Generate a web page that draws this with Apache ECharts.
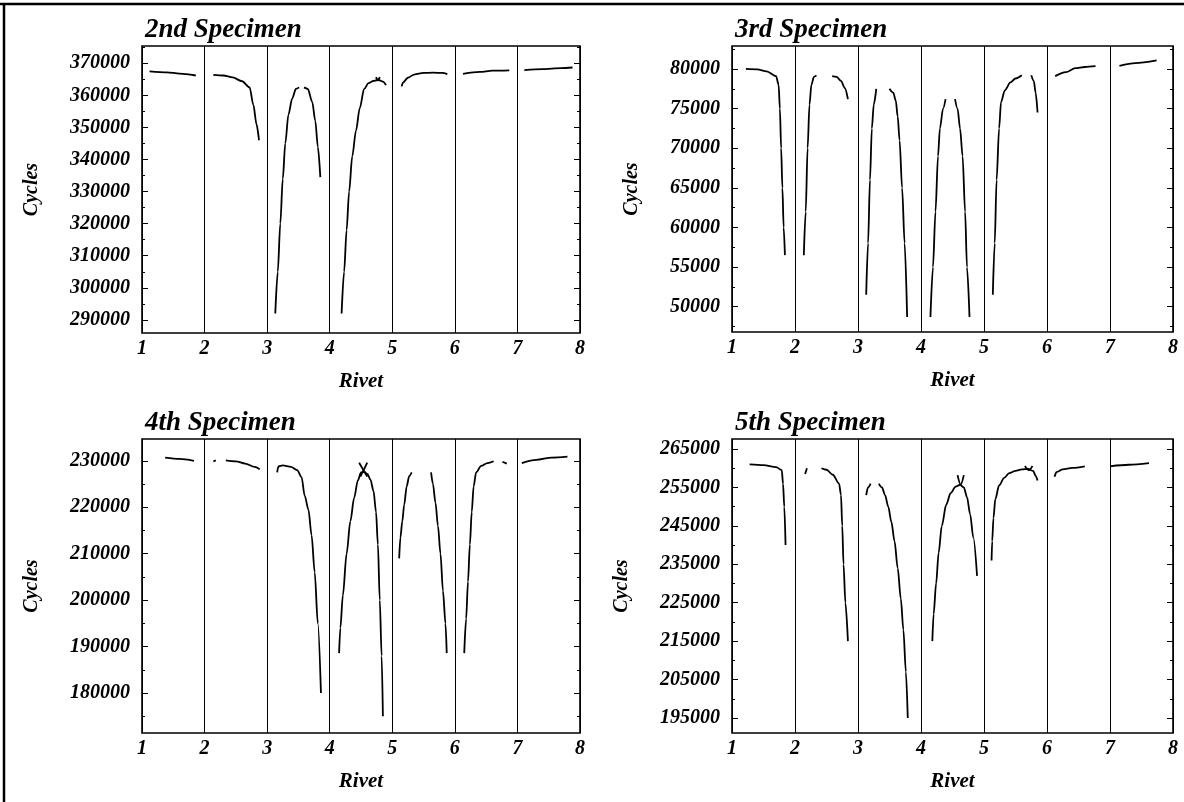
<!DOCTYPE html>
<html>
<head>
<meta charset="utf-8">
<script src="https://cdn.jsdelivr.net/npm/echarts@6/dist/echarts.min.js"></script>
<style>html,body{margin:0;padding:0;background:#fff}#c{width:1184px;height:802px}</style>
</head>
<body>
<div id="c"></div>
<script>
// ---- data ----
const titles = ['2nd Specimen', '3rd Specimen', '4th Specimen', '5th Specimen'];
const rivetTicks = [1, 2, 3, 4, 5, 6, 7, 8];

const yRange2 = [285900, 375400];
const yMajor2 = [290000, 300000, 310000, 320000, 330000, 340000, 350000, 360000, 370000];
const yMinor2 = [295000, 305000, 315000, 325000, 335000, 345000, 355000, 365000, 375000];

const yRange3 = [46800, 82900];
const yMajor3 = [50000, 55000, 60000, 65000, 70000, 75000, 80000];
const yMinor3 = [47500, 52500, 57500, 62500, 67500, 72500, 77500, 82500];

const yRange4 = [171400, 234700];
const yMajor4 = [180000, 190000, 200000, 210000, 220000, 230000];
const yMinor4 = [175000, 185000, 195000, 205000, 215000, 225000];

const yRange5 = [191100, 267600];
const yMajor5 = [195000, 205000, 215000, 225000, 235000, 245000, 255000, 265000];
const yMinor5 = [200000, 210000, 220000, 230000, 240000, 250000, 260000];

// curve segments [rivet, cycles]
const spec2 = [
  [[1.12,367500],[1.4,367200],[1.6,366800],[1.86,366200]],
  [[2.14,366400],[2.3,366200],[2.45,365600],[2.6,364400],[2.72,362500],[2.78,357000],[2.83,351000],[2.87,346000]],
  [[3.13,292000],[3.17,305000],[3.21,320000],[3.25,334000],[3.29,345000],[3.34,354000],[3.4,359000],[3.46,362000],[3.51,362500]],
  [[3.59,362500],[3.65,362000],[3.72,358000],[3.77,352000],[3.81,344000],[3.85,334500]],
  [[4.19,292000],[4.23,305000],[4.27,318000],[4.31,330000],[4.36,341000],[4.42,349000],[4.48,356000],[4.55,362000],[4.62,363800],[4.7,364500],[4.78,364800],[4.85,364300],[4.9,363200]],
  [[4.74,365700],[4.77,364700],[4.8,365700]],
  [[5.15,362800],[5.17,364000],[5.25,365500],[5.35,366500],[5.5,367000],[5.65,367100],[5.8,367000],[5.88,366600]],
  [[6.13,366700],[6.4,367300],[6.6,367700],[6.87,367800]],
  [[7.11,367900],[7.4,368200],[7.7,368500],[7.88,368700]]
];

const spec3 = [
  [[1.22,80000],[1.4,79950],[1.55,79700],[1.7,79100],[1.74,78000],[1.76,75000],[1.78,70000],[1.8,65000],[1.82,60000],[1.84,56500]],
  [[2.14,56500],[2.17,62000],[2.2,70000],[2.23,75500],[2.26,78000],[2.3,79000],[2.34,79200]],
  [[2.59,79100],[2.66,79000],[2.73,78500],[2.79,77600],[2.84,76200]],
  [[3.13,51500],[3.16,58000],[3.19,66000],[3.22,72500],[3.25,75500],[3.29,77500]],
  [[3.5,77500],[3.56,77000],[3.6,76000],[3.63,74000],[3.66,71000],[3.7,65000],[3.74,58000],[3.78,48700]],
  [[4.15,48700],[4.19,55000],[4.23,62000],[4.27,69000],[4.3,72500],[4.35,75000],[4.39,76200]],
  [[4.54,76200],[4.58,75000],[4.62,72500],[4.66,69000],[4.7,62000],[4.73,55000],[4.77,48700]],
  [[5.14,51500],[5.17,58000],[5.2,66000],[5.24,72500],[5.27,75800],[5.33,77300],[5.42,78300],[5.5,78800],[5.6,79200]],
  [[5.75,79200],[5.79,78500],[5.82,77000],[5.85,74500]],
  [[6.13,79100],[6.3,79600],[6.45,80100],[6.6,80250],[6.77,80350]],
  [[7.15,80400],[7.4,80750],[7.74,81100]]
];

const spec4 = [
  [[1.37,230700],[1.6,230400],[1.83,230000]],
  [[2.14,229900],[2.18,230100]],
  [[2.34,230100],[2.5,229900],[2.65,229400],[2.8,228700],[2.88,228200]],
  [[3.16,227500],[3.18,228800],[3.25,229000],[3.38,228700],[3.48,228000],[3.55,226500],[3.6,222500],[3.66,219500],[3.71,214000],[3.76,206000],[3.81,195000],[3.86,180000]],
  [[4.15,188600],[4.17,194000],[4.21,201000],[4.27,210000],[4.33,217000],[4.39,222000],[4.45,225800],[4.5,227500],[4.55,227600],[4.6,227200],[4.65,226000],[4.7,223500],[4.74,219000],[4.77,212000],[4.8,200000],[4.83,188000],[4.85,175000]],
  [[4.47,229600],[4.6,226600]],
  [[4.49,226600],[4.6,229600]],
  [[5.11,209000],[5.13,213500],[5.16,217000],[5.19,220500],[5.23,224500],[5.27,226700],[5.31,227500]],
  [[5.62,227500],[5.65,225000],[5.69,221000],[5.73,216000],[5.77,210000],[5.81,202000],[5.85,195000],[5.87,188600]],
  [[6.15,188600],[6.18,196000],[6.21,204000],[6.24,212000],[6.27,219000],[6.3,224500],[6.34,227500],[6.42,228900],[6.52,229500],[6.62,229900]],
  [[6.76,229800],[6.83,229400]],
  [[7.07,229500],[7.3,230200],[7.55,230700],[7.8,230900]]
];

const spec5 = [
  [[1.28,261000],[1.5,260800],[1.7,260300],[1.79,259500],[1.81,256000],[1.83,250000],[1.85,240000]],
  [[2.16,258500],[2.19,260000]],
  [[2.42,260000],[2.5,259600],[2.6,258300],[2.7,256000],[2.73,253000],[2.75,245000],[2.77,235000],[2.8,225000],[2.84,215000]],
  [[3.13,253000],[3.16,255000],[3.2,256000]],
  [[3.33,256000],[3.38,255000],[3.43,253000],[3.48,250000],[3.53,246000],[3.58,241000],[3.63,234000],[3.68,226000],[3.72,218000],[3.76,207000],[3.79,195000]],
  [[4.18,215000],[4.2,222000],[4.24,230000],[4.28,238000],[4.33,245000],[4.4,250500],[4.47,253500],[4.55,255200],[4.62,255700],[4.68,255000],[4.73,252500],[4.78,248000],[4.83,242000],[4.89,232000]],
  [[4.58,258200],[4.63,255700],[4.68,258200]],
  [[5.12,236000],[5.13,241000],[5.15,247000],[5.18,252000],[5.24,255500],[5.32,257500],[5.4,258700],[5.5,259300],[5.6,259700],[5.7,259800],[5.78,259300],[5.82,258000],[5.85,256800]],
  [[5.65,260600],[5.71,259500],[5.77,260600]],
  [[6.12,257800],[6.15,259000],[6.25,259700],[6.4,260100],[6.6,260500]],
  [[7.0,260500],[7.3,260900],[7.62,261300]]
];

// ---- chart ----
const FONT = 'Liberation Serif';
const txt = { fontFamily: FONT, fontStyle: 'italic', fontWeight: 'bold', color: '#000' };
const plain = v => String(v);

const panels = [
  { segs: spec2, range: yRange2, major: yMajor2, minor: yMinor2, nameGap: 100, grid: { left: 142, top: 46, width: 438, height: 287 } },
  { segs: spec3, range: yRange3, major: yMajor3, minor: yMinor3, nameGap: 90, grid: { left: 732, top: 46, width: 441, height: 286 } },
  { segs: spec4, range: yRange4, major: yMajor4, minor: yMinor4, nameGap: 100, grid: { left: 142, top: 439, width: 438, height: 294 } },
  { segs: spec5, range: yRange5, major: yMajor5, minor: yMinor5, nameGap: 100, grid: { left: 732, top: 439, width: 441, height: 294 } }
];

const grid = [], xAxis = [], yAxis = [], series = [], title = [];
panels.forEach((p, i) => {
  grid.push(Object.assign({ show: true, borderColor: '#000', borderWidth: 1.6, backgroundColor: 'transparent' }, p.grid));
  title.push({ text: titles[i], left: p.grid.left + 3, top: p.grid.top - 29, padding: 0,
    textStyle: Object.assign({}, txt, { fontSize: 27 }) });
  xAxis.push({
    type: 'value', gridIndex: i, min: 1, max: 8, interval: 1,
    name: 'Rivet', nameLocation: 'middle', nameGap: 38,
    nameTextStyle: Object.assign({}, txt, { fontSize: 21 }),
    axisLine: { show: false }, axisTick: { show: false },
    axisLabel: Object.assign({}, txt, { fontSize: 20, margin: 6, formatter: plain }),
    splitLine: { show: true, lineStyle: { color: '#000', width: 1 } }
  });
  const base = { type: 'value', gridIndex: i, min: p.range[0], max: p.range[1],
    axisLine: { show: false }, splitLine: { show: false } };
  yAxis.push(Object.assign({}, base, {
    position: 'left', name: 'Cycles', nameLocation: 'middle', nameGap: p.nameGap,
    nameTextStyle: Object.assign({}, txt, { fontSize: 20 }),
    axisTick: { show: true, inside: true, length: 6, customValues: p.major, lineStyle: { color: '#000', width: 1 } },
    axisLabel: Object.assign({}, txt, { fontSize: 20, margin: 12, customValues: p.major, formatter: plain })
  }));
  yAxis.push(Object.assign({}, base, {
    position: 'left',
    axisTick: { show: true, inside: true, length: 3, customValues: p.minor, lineStyle: { color: '#000', width: 1 } },
    axisLabel: { show: false, customValues: p.minor }
  }));
  yAxis.push(Object.assign({}, base, {
    position: 'right',
    axisTick: { show: true, inside: true, length: 6, customValues: p.major, lineStyle: { color: '#000', width: 1 } },
    axisLabel: { show: false, customValues: p.major }
  }));
  yAxis.push(Object.assign({}, base, {
    position: 'right',
    axisTick: { show: true, inside: true, length: 3, customValues: p.minor, lineStyle: { color: '#000', width: 1 } },
    axisLabel: { show: false, customValues: p.minor }
  }));
  p.segs.forEach(d => {
    series.push({
      type: 'line', xAxisIndex: i, yAxisIndex: i * 4, data: d,
      showSymbol: false, symbol: 'none', smooth: 0.3, smoothMonotone: 'x',
      lineStyle: { color: '#000', width: 1.8 }, silent: true
    });
  });
});

const chart = echarts.init(document.getElementById('c'), null, { renderer: 'canvas' });
chart.setOption({
  backgroundColor: '#fff',
  animation: false,
  title, grid, xAxis, yAxis, series,
  graphic: [
    { type: 'line', shape: { x1: 0, y1: 4, x2: 1184, y2: 4 }, style: { stroke: '#000', lineWidth: 2.5 }, silent: true },
    { type: 'line', shape: { x1: 4, y1: 4, x2: 4, y2: 802 }, style: { stroke: '#000', lineWidth: 2.5 }, silent: true }
  ]
});
</script>
</body>
</html>
